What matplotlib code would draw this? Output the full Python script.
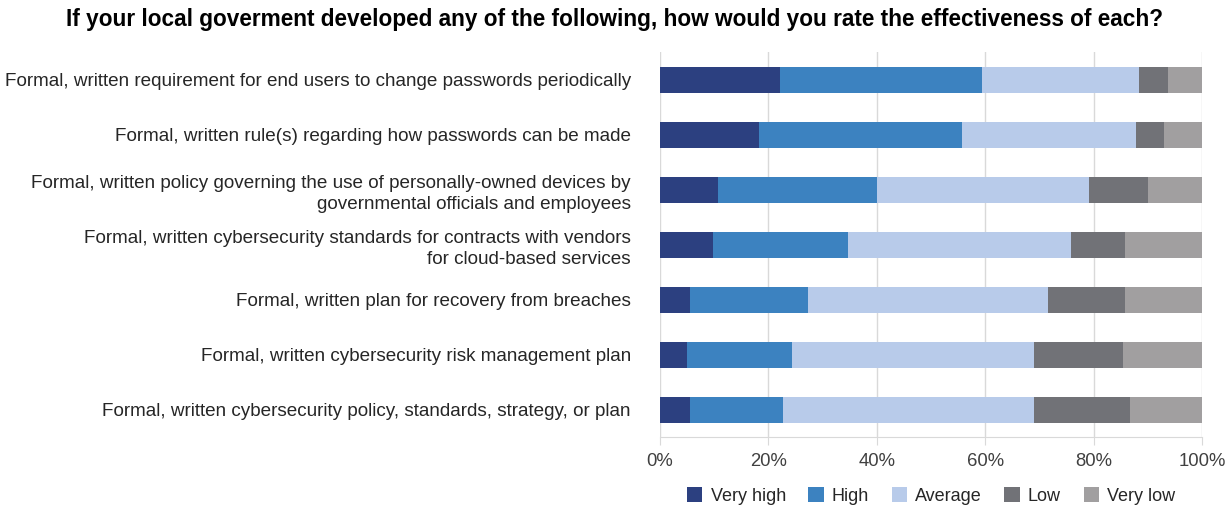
import numpy as np
import matplotlib
matplotlib.use("Agg")
import matplotlib.pyplot as plt
from matplotlib.ticker import PercentFormatter

plt.rcParams["font.family"] = ["Liberation Sans", "DejaVu Sans"]

# data, top row first (percent of respondents)
labels = [
    "Formal, written requirement for end users to change passwords periodically",
    "Formal, written rule(s) regarding how passwords can be made",
    "Formal, written policy governing the use of personally-owned devices by\ngovernmental officials and employees",
    "Formal, written cybersecurity standards for contracts with vendors\nfor cloud-based services",
    "Formal, written plan for recovery from breaches",
    "Formal, written cybersecurity risk management plan",
    "Formal, written cybersecurity policy, standards, strategy, or plan",
]
categories = ["Very high", "High", "Average", "Low", "Very low"]
very_high = [22.2, 18.3, 10.6, 9.7, 5.5, 5.0, 5.5]
high = [37.2, 37.4, 29.5, 25.0, 21.8, 19.4, 17.1]
average = [28.9, 32.1, 39.0, 41.1, 44.2, 44.6, 46.4]
low = [5.3, 5.1, 10.9, 9.9, 14.3, 16.4, 17.7]
very_low = [6.4, 7.1, 10.0, 14.3, 14.2, 14.6, 13.3]
series = [very_high, high, average, low, very_low]
colors = ["#2c4080", "#3c82c0", "#b8cbea", "#717277", "#a19fa0"]

TITLE = "If your local goverment developed any of the following, how would you rate the effectiveness of each?"

fig = plt.figure(figsize=(12.28, 5.08), dpi=100, facecolor="white")
ax = fig.add_axes([0.5375, 0.139, 0.4415, 0.758])

y = np.arange(len(labels))[::-1]
left = np.zeros(len(labels))
for name, vals, c in zip(categories, series, colors):
    vals = np.array(vals)
    ax.barh(y, vals, left=left, height=0.47, color=c, label=name, zorder=3)
    left += vals

ax.set_xlim(0, 100)
ax.set_ylim(-0.5, len(labels) - 0.5)
ax.set_yticks(y)
ax.set_yticklabels(labels, fontsize=13.55, color="#262626", linespacing=1.35)
ax.tick_params(axis="y", length=0, pad=21)
ax.xaxis.set_major_formatter(PercentFormatter(decimals=0))
ax.set_xticks(np.arange(0, 101, 20))
ax.tick_params(axis="x", labelsize=13.3, colors="#404040", length=6, color="#d9d9d9", pad=5)
ax.grid(axis="x", color="#d9d9d9", lw=1, zorder=0)
for s in ["top", "right", "left"]:
    ax.spines[s].set_visible(False)
ax.spines["bottom"].set_color("#d9d9d9")

fig.text(0.5, 0.962, TITLE, fontsize=16.3, fontweight="bold", ha="center", va="center")

ax.legend(loc="center", bbox_to_anchor=(0.5, -0.152), ncol=5, frameon=False, fontsize=13,
          handlelength=0.85, handleheight=0.85, columnspacing=1.25, handletextpad=0.45,
          labelcolor="#262626")

fig.savefig("out.png", dpi=100, facecolor="white")
